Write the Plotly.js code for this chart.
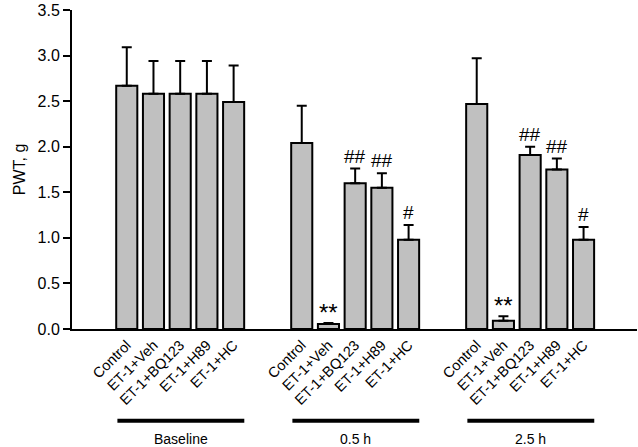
<!DOCTYPE html>
<html>
<head>
<meta charset="utf-8">
<script src="https://cdn.plot.ly/plotly-3.0.1.min.js"></script>
<style>html,body{margin:0;padding:0;background:#fff}#chart{width:638px;height:447px}</style>
</head>
<body>
<div id="chart"></div>
<script>
var treatments = ["Control", "ET-1+Veh", "ET-1+BQ123", "ET-1+H89", "ET-1+HC"];
var groups = ["Baseline", "0.5 h", "2.5 h"];
var baselineValues = [2.67, 2.58, 2.58, 2.58, 2.49];
var baselineErrors = [0.42, 0.36, 0.36, 0.36, 0.40];
var halfHourValues = [2.04, 0.055, 1.60, 1.55, 0.98];
var halfHourErrors = [0.41, 0.01, 0.16, 0.16, 0.16];
var twoHalfHourValues = [2.47, 0.09, 1.91, 1.75, 0.98];
var twoHalfHourErrors = [0.50, 0.05, 0.09, 0.12, 0.14];
var halfHourMarks = ["", "**", "##", "##", "#"];
var twoHalfHourMarks = ["", "**", "##", "##", "#"];

var seriesValues = [baselineValues, halfHourValues, twoHalfHourValues];
var seriesErrors = [baselineErrors, halfHourErrors, twoHalfHourErrors];
var seriesMarks = [["", "", "", "", ""], halfHourMarks, twoHalfHourMarks];

var FONT = "Liberation Sans, Arial, sans-serif";
var groupStep = 6.55;
var xs = [], ys = [], errs = [], tickText = [];
var annotations = [], shapes = [];
for (var g = 0; g < groups.length; g++) {
  for (var i = 0; i < treatments.length; i++) {
    var x = g * groupStep + i;
    xs.push(x);
    ys.push(seriesValues[g][i]);
    errs.push(seriesErrors[g][i]);
    tickText.push(treatments[i]);
    var m = seriesMarks[g][i];
    if (m) {
      var star = m.indexOf("*") >= 0;
      annotations.push({
        x: x, y: seriesValues[g][i] + seriesErrors[g][i], xref: "x", yref: "y",
        text: m, showarrow: false, yanchor: "bottom", yshift: star ? -5 : 0,
        font: {family: FONT, size: star ? 24 : 19, color: "#000"}
      });
    }
  }
  var x0 = g * groupStep - 0.35, x1 = g * groupStep + 4.4;
  shapes.push({type: "line", xref: "x", yref: "paper", x0: x0, x1: x1, y0: -0.288, y1: -0.288,
    line: {color: "#000", width: 4}});
  annotations.push({
    x: (x0 + x1) / 2, y: -0.312, xref: "x", yref: "paper", text: groups[g], showarrow: false,
    yanchor: "top", font: {family: FONT, size: 14, color: "#000"}
  });
}

var trace = {
  type: "bar", x: xs, y: ys, width: 0.79,
  marker: {color: "#c0c0c0", line: {color: "#000", width: 2}},
  error_y: {type: "data", symmetric: false, array: errs, arrayminus: errs.map(function(){return 0;}),
    color: "#000", thickness: 2, width: 5},
  hoverinfo: "skip"
};

var layout = {
  width: 638, height: 447,
  margin: {l: 72, r: 1, t: 10, b: 118},
  paper_bgcolor: "#fff", plot_bgcolor: "#fff",
  showlegend: false,
  font: {family: FONT, color: "#000"},
  xaxis: {
    range: [-2.05, 2 * groupStep + 4 + 2.0], tickmode: "array", tickvals: xs, ticktext: tickText,
    tickangle: -45, ticks: "", showgrid: false, zeroline: false,
    showline: true, linecolor: "#000", linewidth: 2,
    tickfont: {size: 14.5, color: "#000"}
  },
  yaxis: {
    range: [0, 3.5], tickmode: "linear", tick0: 0, dtick: 0.5, tickformat: ".1f",
    ticks: "outside", ticklen: 7, tickwidth: 2, tickcolor: "#000",
    showgrid: false, zeroline: false, showline: true, linecolor: "#000", linewidth: 2,
    tickfont: {size: 16, color: "#000"},
    title: {text: "PWT, g", font: {size: 16, color: "#000"}, standoff: 8}
  },
  shapes: shapes,
  annotations: annotations
};

Plotly.newPlot("chart", [trace], layout, {displayModeBar: false, staticPlot: true});
</script>
</body>
</html>
